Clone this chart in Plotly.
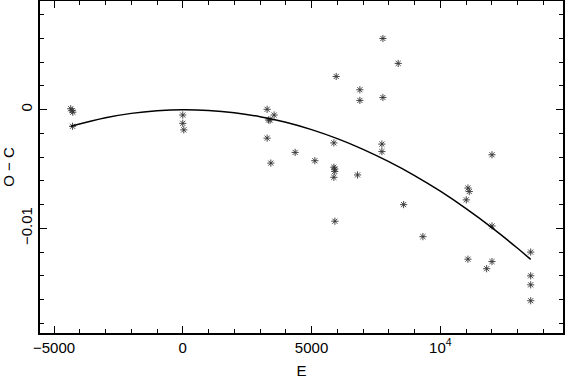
import plotly.graph_objects as go

# observed points (E, O-C)
E = [-4351, -4293, -4270, -4280, 0, 0, 40,
     3275, 3547, 3330, 3390, 3275, 3419, 4363, 5128, 5866,
     5866, 5900, 5900, 5866, 5957, 5905, 6786, 6876, 6876,
     7770, 7770, 7731, 7731, 8364, 8574, 9324,
     11072, 11123, 11007, 12005, 12005, 11072, 12005, 11798,
     13508, 13508, 13508, 13508]
OC = [0.00008, -0.00008, -0.00021, -0.0014, -0.00045, -0.00115, -0.0017,
      0.00003, -0.00045, -0.00087, -0.00087, -0.0024, -0.0045, -0.0036, -0.0043, -0.0028,
      -0.00485, -0.0050, -0.0052, -0.0057, 0.0028, -0.0094, -0.0055, 0.00168, 0.00078,
      0.0060, 0.00103, -0.0029, -0.00353, 0.0039, -0.0080, -0.0107,
      -0.0066, -0.0069, -0.0076, -0.0038, -0.0098, -0.0126, -0.0128, -0.0134,
      -0.0120, -0.0140, -0.01476, -0.0161]

# fitted curve
fit_E = [-4350, -3000, -2000, -1000, 0, 1000, 2000, 3000, 4000, 5000,
         6000, 7000, 8000, 9000, 10000, 11000, 12000, 13000, 13508]
fit_OC = [-0.00140, -0.00068, -0.00031, -0.00009, 0.0, -0.00006, -0.00025,
          -0.00059, -0.00106, -0.00168, -0.00244, -0.00334, -0.00438, -0.00555,
          -0.00687, -0.00834, -0.00994, -0.01168, -0.01262]

xticks = [-5000, 0, 5000, 10000]
xlabels = ["\u22125000", "0", "5000", "10<sup>4</sup>"]
yticks = [-0.01, 0]
ylabels = ["\u22120.01", "0"]

font = "Liberation Sans, Arial, sans-serif"

fig = go.Figure()
fig.add_trace(go.Scatter(x=E, y=OC, mode="markers",
                         marker=dict(symbol="asterisk-open", size=6, color="#333",
                                     line=dict(width=0.9, color="#333"))))
fig.add_trace(go.Scatter(x=fit_E, y=fit_OC, mode="lines", line_shape="spline",
                         line=dict(color="black", width=1.5)))

ax = dict(showline=True, linecolor="black", linewidth=1.5, mirror="ticks",
          ticks="inside", ticklen=7, tickwidth=1, tickcolor="black",
          showgrid=False, zeroline=False, tickmode="array", automargin=False,
          tickfont=dict(family=font, size=15, color="black"),
          title_font=dict(family=font, size=15, color="black"))

fig.update_layout(width=565, height=379, plot_bgcolor="white", paper_bgcolor="white",
                  showlegend=False, margin=dict(l=40, r=2, t=1, b=46),
                  xaxis=dict(ax, range=[-5544, 14763], tickvals=xticks, ticktext=xlabels,
                             title=dict(text="E", standoff=12),
                             minor=dict(tickmode="linear", tick0=0, dtick=1000,
                                        ticks="inside", ticklen=4, tickcolor="black")),
                  yaxis=dict(ax, range=[-0.01882, 0.00916], tickvals=yticks, ticktext=ylabels,
                             tickangle=-90, title=dict(text="O \u2212 C", standoff=4),
                             minor=dict(tickmode="linear", tick0=0, dtick=0.002,
                                        ticks="inside", ticklen=4, tickcolor="black")))

fig.write_html("out.html", config={"displayModeBar": False},
               post_script="document.body.style.margin='0';")
